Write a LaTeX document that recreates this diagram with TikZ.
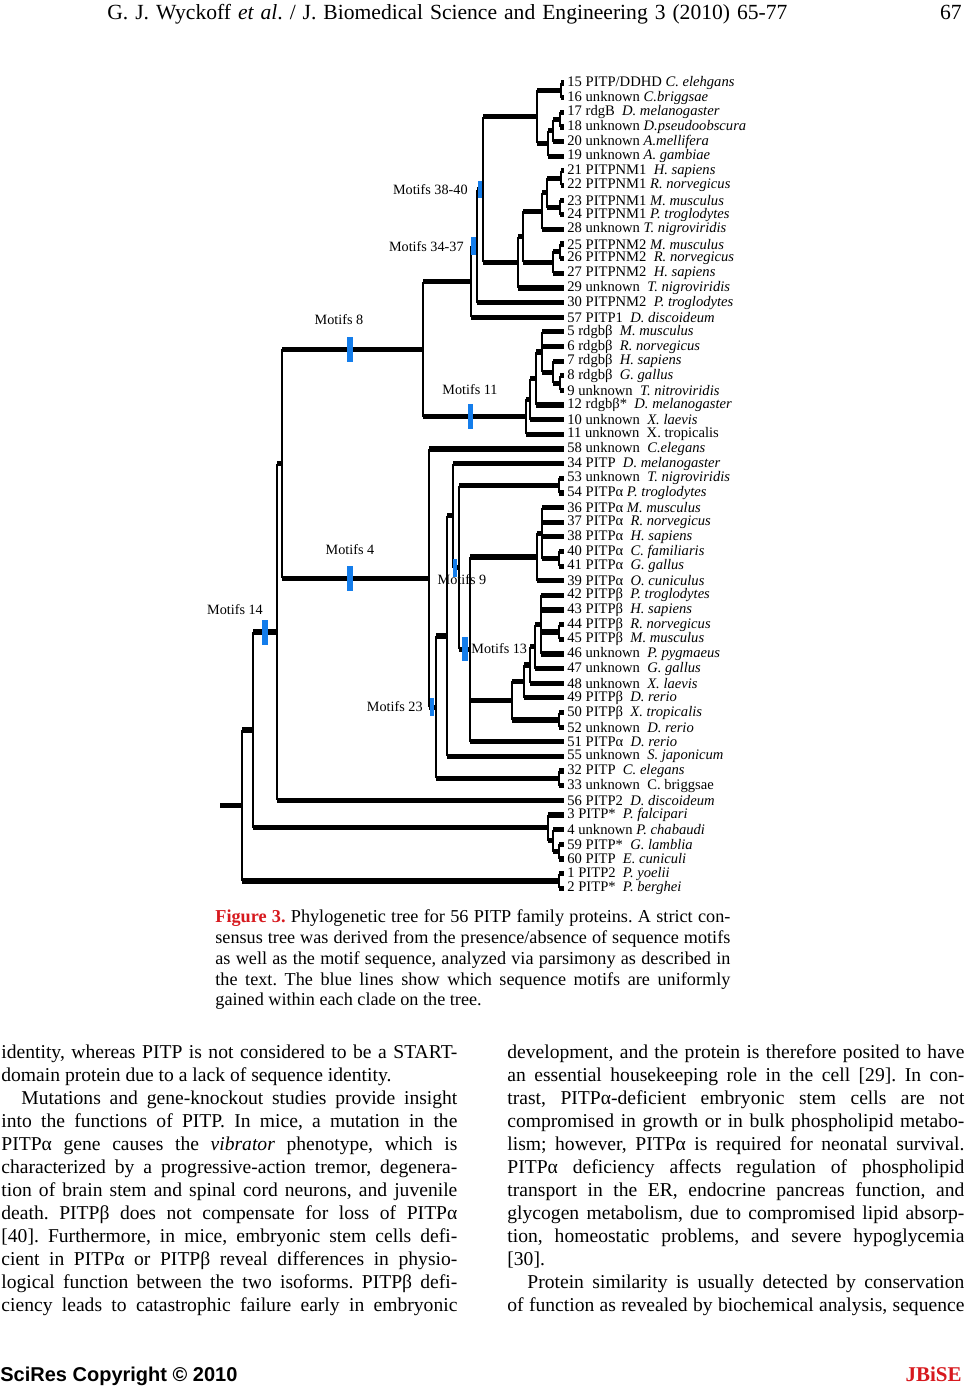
\documentclass[tikz,border=0pt]{standalone}
\usepackage{fontspec}
\setmainfont{Liberation Serif}
\newfontfamily\arialfont{Liberation Sans}
\definecolor{gainblue}{RGB}{20,125,235}
\definecolor{jred}{RGB}{215,25,30}
\frenchspacing

\begin{document}
\begin{tikzpicture}[x=0.5pt,y=-0.5pt,line cap=butt,
    vline/.style={line width=1pt},
    hline/.style={line width=2.6pt},
    leaf/.style={anchor=west,inner sep=1.5pt,font=\fontsize{7.3}{8}\selectfont},
    gain/.style={fill=gainblue,draw=none,inner sep=0pt,minimum width=2.7pt,minimum height=12.5pt},
    motif/.style={inner sep=1pt,font=\fontsize{7.1}{8}\selectfont},
    bodyline/.style={anchor=base west,inner sep=0pt,font=\fontsize{9.8}{11}\selectfont},
    capline/.style={anchor=base west,inner sep=0pt,font=\fontsize{9.1}{10.5}\selectfont}]

\useasboundingbox[fill=white] (0,0) rectangle (966,1386);

% running head
\node[anchor=base west,inner sep=0pt,font=\fontsize{10.8}{12}\selectfont] (hdr) at (107,20)
  {\makebox[340pt][s]{G. J. Wyckoff \textit{et al}. / J. Biomedical Science and Engineering 3 (2010) 65-77}};
\node[anchor=base east,inner sep=0pt,font=\fontsize{10.8}{12}\selectfont] (pg) at (962,20) {67};

% leaves
\foreach \n/\lab [count=\k from 0] in {
  15/{PITP\slash DDHD \textit{C. elehgans}}, 16/{unknown \textit{C.briggsae}},
  17/{rdgB\ \ \textit{D. melanogaster}}, 18/{unknown \textit{D.pseudoobscura}},
  20/{unknown \textit{A.mellifera}}, 19/{unknown \textit{A. gambiae}},
  21/{PITPNM1\ \ \textit{H. sapiens}}, 22/{PITPNM1 \textit{R. norvegicus}},
  23/{PITPNM1 \textit{M. musculus}}, 24/{PITPNM1 \textit{P. troglodytes}},
  28/{unknown \textit{T. nigroviridis}}, 25/{PITPNM2 \textit{M. musculus}},
  26/{PITPNM2\ \ \textit{R. norvegicus}}, 27/{PITPNM2\ \ \textit{H. sapiens}},
  29/{unknown\ \ \textit{T. nigroviridis}}, 30/{PITPNM2\ \ \textit{P. troglodytes}},
  57/{PITP1\ \ \textit{D. discoideum}}, 5/{rdgbβ\ \ \textit{M. musculus}},
  6/{rdgbβ\ \ \textit{R. norvegicus}}, 7/{rdgbβ\ \ \textit{H. sapiens}},
  8/{rdgbβ\ \ \textit{G. gallus}}, 9/{unknown\ \ \textit{T. nitroviridis}},
  12/{rdgbβ*\ \ \textit{D. melanogaster}}, 10/{unknown\ \ \textit{X. laevis}},
  11/{unknown\ \ X. tropicalis}, 58/{unknown\ \ \textit{C.elegans}},
  34/{PITP\ \ \textit{D. melanogaster}}, 53/{unknown\ \ \textit{T. nigroviridis}},
  54/{PITPα \textit{P. troglodytes}}, 36/{PITPα \textit{M. musculus}},
  37/{PITPα\ \ \textit{R. norvegicus}}, 38/{PITPα\ \ \textit{H. sapiens}},
  40/{PITPα\ \ \textit{C. familiaris}}, 41/{PITPα\ \ \textit{G. gallus}},
  39/{PITPα\ \ \textit{O. cuniculus}}, 42/{PITPβ\ \ \textit{P. troglodytes}},
  43/{PITPβ\ \ \textit{H. sapiens}}, 44/{PITPβ\ \ \textit{R. norvegicus}},
  45/{PITPβ\ \ \textit{M. musculus}}, 46/{unknown\ \ \textit{P. pygmaeus}},
  47/{unknown\ \ \textit{G. gallus}}, 48/{unknown\ \ \textit{X. laevis}},
  49/{PITPβ\ \ \textit{D. rerio}}, 50/{PITPβ\ \ \textit{X. tropicalis}},
  52/{unknown\ \ \textit{D. rerio}}, 51/{PITPα\ \ \textit{D. rerio}},
  55/{unknown\ \ \textit{S. japonicum}}, 32/{PITP\ \ \textit{C. elegans}},
  33/{unknown\ \ C. briggsae}, 56/{PITP2\ \ \textit{D. discoideum}},
  3/{PITP*\ \ \textit{P. falcipari}}, 4/{unknown \textit{P. chabaudi}},
  59/{PITP*\ \ \textit{G. lamblia}}, 60/{PITP\ \ \textit{E. cuniculi}},
  1/{PITP2\ \ \textit{P. yoelii}}, 2/{PITP*\ \ \textit{P. berghei}}}
  \node[leaf] (t\n) at (564,{83+14.64*\k}) {\n\ \lab};

% internal nodes
\coordinate (rootin) at (220,805.4);
\coordinate (root) at (242,805.4);
\coordinate (n1) at (253,729.9);
\coordinate (n2) at (277,632.0);
\coordinate (n3) at (282,463.7);
\coordinate (a0) at (423,349.2);
\coordinate (a1) at (471,281.7);
\coordinate (a2) at (477,246.1);
\coordinate (a3) at (483,189.6);
\coordinate (a4) at (537,116.9);
\coordinate (a5) at (561,90.3);
\coordinate (a6) at (548,143.4);
\coordinate (a7) at (553,130.6);
\coordinate (a8) at (560,119.6);
\coordinate (a9) at (518,262.4);
\coordinate (a10) at (523,236.7);
\coordinate (a11) at (542,211.1);
\coordinate (a12) at (547,192.8);
\coordinate (a13) at (561,178.2);
\coordinate (a14) at (560,207.5);
\coordinate (a15) at (553,262.4);
\coordinate (a16) at (560,251.4);
\coordinate (b0) at (526,416.8);
\coordinate (b1) at (530,399.2);
\coordinate (b2) at (536,378.6);
\coordinate (b3) at (542,352.0);
\coordinate (b4) at (553,372.2);
\coordinate (b5) at (560,383.1);
\coordinate (c0) at (429,578.1);
\coordinate (c1) at (436,707.2);
\coordinate (c2) at (447,636.0);
\coordinate (c3) at (453,515.6);
\coordinate (c4) at (459,567.5);
\coordinate (c5) at (559,485.6);
\coordinate (c6) at (470,649.4);
\coordinate (c7) at (537,557.0);
\coordinate (c8) at (542,533.2);
\coordinate (c9) at (559,558.8);
\coordinate (c10) at (512,700.6);
\coordinate (c11) at (524,681.4);
\coordinate (c12) at (530,665.0);
\coordinate (c13) at (535,646.7);
\coordinate (c14) at (541,624.7);
\coordinate (c15) at (559,632.0);
\coordinate (c16) at (559,719.9);
\coordinate (c17) at (559,778.4);
\coordinate (d0) at (548,827.8);
\coordinate (d1) at (553,840.6);
\coordinate (d2) at (559,851.6);
\coordinate (d3) at (559,880.9);

% branches
\draw[hline] (rootin) -- (root);
\foreach \p/\c in {root/n1, root/d3, n1/n2, n1/d0, n2/n3, n2/t56, n3/a0, n3/c0,
  a0/a1, a0/b0, a1/a2, a1/t57, a2/a3, a2/t30, a3/a4, a3/a9, a4/a5, a4/a6,
  a5/t15, a5/t16, a6/a7, a6/t19, a7/a8, a7/t20, a8/t17, a8/t18, a9/a10, a9/t29,
  a10/a11, a10/a15, a11/a12, a11/t28, a12/a13, a12/a14, a13/t21, a13/t22,
  a14/t23, a14/t24, a15/a16, a15/t27, a16/t25, a16/t26,
  b0/b1, b0/t11, b1/b2, b1/t10, b2/b3, b2/t12, b3/t5, b3/t6, b3/b4,
  b4/t7, b4/b5, b5/t8, b5/t9,
  c0/t58, c0/c1, c1/c2, c1/c17, c2/c3, c2/t55, c3/t34, c3/c4, c4/c5, c4/c6,
  c5/t53, c5/t54, c6/c7, c6/c10, c6/t51, c7/c8, c7/t39,
  c8/t36, c8/t37, c8/t38, c8/c9, c9/t40, c9/t41, c10/c11, c10/c16,
  c11/c12, c11/t49, c12/c13, c12/t48, c13/c14, c13/t47,
  c14/t42, c14/t43, c14/c15, c14/t46, c15/t44, c15/t45, c16/t50, c16/t52,
  c17/t32, c17/t33, d0/t3, d0/d1, d1/t4, d1/d2, d2/t59, d2/t60, d3/t1, d3/t2}
{
  \draw[vline] (\p) -- (\p |- \c);
  \draw[hline] (\p |- \c) -- (\c);
}

% motif gains
\node[gain,minimum width=2.2pt,minimum height=8.5pt] (g38) at (480,189.6) {};
\node[gain,minimum width=2.5pt,minimum height=9pt] (g34) at (473.5,246.1) {};
\node[gain] (g8) at (350,349.2) {};
\node[gain] (g11) at (470.5,416.8) {};
\node[gain] (g4) at (350,578.1) {};
\node[gain] (g14) at (265,632.0) {};
\node[gain,minimum width=2pt,minimum height=9pt] (g9) at (455,567.5) {};
\node[gain,minimum height=12pt] (g13) at (465,649.4) {};
\node[gain,minimum width=1.8pt,minimum height=9pt] (g23) at (432,707.2) {};

\node[motif,anchor=east] (m38) at (470,190) {Motifs 38-40};
\node[motif,anchor=east] (m34) at (466,247) {Motifs 34-37};
\node[motif] (m8) at (339,320) {Motifs 8};
\node[motif] (m11) at (470,390) {Motifs 11};
\node[motif] (m4) at (350,550) {Motifs 4};
\node[motif] (m14) at (235,610) {Motifs 14};
\node[motif] (m9) at (462,580) {Motifs 9};
\node[motif,anchor=west] (m13) at (469,649) {Motifs 13};
\node[motif,anchor=east] (m23) at (425,707) {Motifs 23};

% caption
\node[capline] (cap0) at (215,922) {\makebox[257.5pt][s]{\textcolor{jred}{\textbf{Figure 3.}} Phylogenetic tree for 56 PITP family proteins. A strict con-}};
\node[capline] (cap1) at (215,943) {\makebox[257.5pt][s]{sensus tree was derived from the presence/absence of sequence motifs}};
\node[capline] (cap2) at (215,964) {\makebox[257.5pt][s]{as well as the motif sequence, analyzed via parsimony as described in}};
\node[capline] (cap3) at (215,985) {\makebox[257.5pt][s]{the text. The blue lines show which sequence motifs are uniformly}};
\node[capline] (cap4) at (215,1005) {gained within each clade on the tree.};

% left column
\foreach \i/\dx/\txt in {
  0/0/{identity, whereas PITP is not considered to be a START-},
  2/20/{Mutations and gene-knockout studies provide insight},
  3/0/{into the functions of PITP. In mice, a mutation in the},
  4/0/{PITPα gene causes the \textit{vibrator} phenotype, which is},
  5/0/{characterized by a progressive-action tremor, degenera-},
  6/0/{tion of brain stem and spinal cord neurons, and juvenile},
  7/0/{death. PITPβ does not compensate for loss of PITPα},
  8/0/{[40]. Furthermore, in mice, embryonic stem cells defi-},
  9/0/{cient in PITPα or PITPβ reveal differences in physio-},
  10/0/{logical function between the two isoforms. PITPβ defi-},
  11/0/{ciency leads to catastrophic failure early in embryonic}}
  \node[bodyline] (left\i) at ({1+\dx},{1058+23*\i}) {\makebox[\dimexpr 228pt-\dx pt/2\relax][s]{\txt}};
\node[bodyline] (left1) at (1,1081) {domain protein due to a lack of sequence identity.};

% right column
\foreach \i/\dx/\txt in {
  0/0/{development, and the protein is therefore posited to have},
  1/0/{an essential housekeeping role in the cell [29]. In con-},
  2/0/{trast, PITPα-deficient embryonic stem cells are not},
  3/0/{compromised in growth or in bulk phospholipid metabo-},
  4/0/{lism; however, PITPα is required for neonatal survival.},
  5/0/{PITPα deficiency affects regulation of phospholipid},
  6/0/{transport in the ER, endocrine pancreas function, and},
  7/0/{glycogen metabolism, due to compromised lipid absorp-},
  8/0/{tion, homeostatic problems, and severe hypoglycemia},
  10/20/{Protein similarity is usually detected by conservation},
  11/0/{of function as revealed by biochemical analysis, sequence}}
  \node[bodyline] (right\i) at ({507+\dx},{1058+23*\i}) {\makebox[\dimexpr 228.5pt-\dx pt/2\relax][s]{\txt}};
\node[bodyline] (right9) at (507,1265) {[30].};

% foot line
\node[anchor=base west,inner sep=0pt,font={\fontsize{10}{12}\arialfont\bfseries}] (foot) at (0,1381) {SciRes Copyright © 2010};
\node[anchor=base east,inner sep=0pt,font={\fontsize{10.5}{12}\selectfont\bfseries}] (jb) at (962,1381) {\textcolor{jred}{JBiSE}};
\end{tikzpicture}
\end{document}
